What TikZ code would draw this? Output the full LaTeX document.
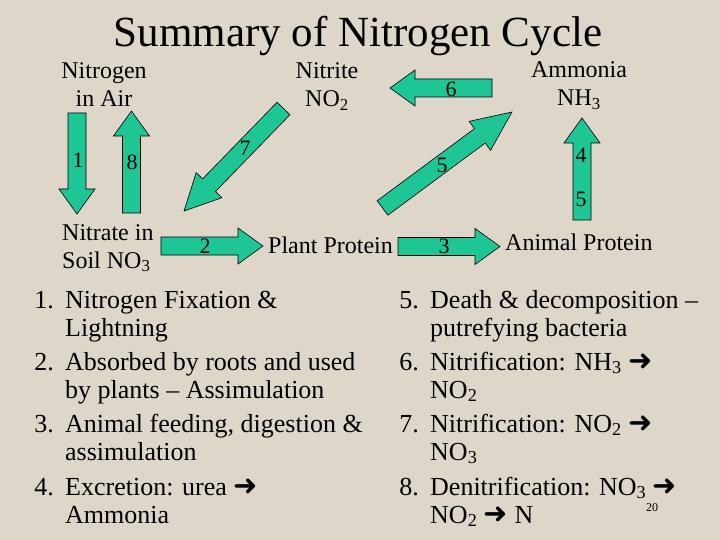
\documentclass[tikz,border=0pt]{standalone}
\usepackage{fontspec}
\setmainfont{Liberation Serif}
\newfontfamily\arrowfont{DejaVu Sans}
\usetikzlibrary{calc}
\definecolor{slide}{RGB}{221,214,201}
\definecolor{arrowgreen}{RGB}{30,198,150}
% block arrow from tail #2 to tip #3, head length #1
\newcommand\blockarrow[3][25]{%
\coordinate (hb) at ($(#3)!#1pt!(#2)$);
\draw[arrowbody] ($(#2)!9pt!90:(#3)$) -- ($(hb)!9pt!-90:(#2)$) -- ($(hb)!18pt!-90:(#2)$) -- (#3)
 -- ($(hb)!18pt!90:(#2)$) -- ($(hb)!9pt!90:(#2)$) -- ($(#2)!9pt!-90:(#3)$) -- cycle;}
\newcommand\To{{\arrowfont\fontsize{29}{28}\selectfont ➜}}
\begin{document}
\begin{tikzpicture}
[x=1pt, y=-1pt,
arrowbody/.style={draw=black, fill=arrowgreen, line width=0.6pt},
cyclelabel/.style={font=\fontsize{24}{28}\selectfont, align=center, inner sep=0pt, anchor=base},
arrownum/.style={font=\fontsize{22}{24}\selectfont, inner sep=0pt, anchor=base},
listitem/.style={font=\fontsize{26}{28}\selectfont, align=left, inner sep=0pt, anchor=base west},
listno/.style={font=\fontsize{26}{28}\selectfont, inner sep=0pt, anchor=base east}]
\fill[slide] (0,0) rectangle (720,540);
\useasboundingbox (0,0) rectangle (720,540);
\node[font=\fontsize{43}{48}\selectfont, inner sep=0pt, anchor=base] (title) at (358,47) {Summary of Nitrogen Cycle};
% cycle (base = last line)
\node[cyclelabel] (air) at (104,107) {Nitrogen\\in Air};
\node[cyclelabel] (nitrite) at (327,107) {Nitrite\\NO\textsubscript{2}};
\node[cyclelabel] (ammonia) at (579,106) {Ammonia\\NH\textsubscript{3}};
\node[cyclelabel, align=left, anchor=base west] (soil) at (62,268) {Nitrate in\\Soil NO\textsubscript{3}};
\node[cyclelabel, anchor=base west] (plant) at (268,253) {Plant Protein};
\node[cyclelabel, anchor=base west] (animal) at (505,250) {Animal Protein};
\coordinate (a1s) at (77,113); \coordinate (a1e) at (77,214);
\coordinate (a8s) at (131.5,213); \coordinate (a8e) at (131.5,111);
\coordinate (a7s) at (283.5,108.5); \coordinate (a7e) at (184,211);
\coordinate (a2s) at (161,246); \coordinate (a2e) at (263,246);
\coordinate (a6s) at (492,88); \coordinate (a6e) at (390,88);
\coordinate (a5s) at (382.5,208); \coordinate (a5e) at (512,112);
\coordinate (a4s) at (582,220); \coordinate (a4e) at (582,118);
\coordinate (a3s) at (398,246.5); \coordinate (a3e) at (500,246.5);
\blockarrow{a1s}{a1e}
\blockarrow{a8s}{a8e}
\blockarrow[36]{a7s}{a7e}
\blockarrow{a2s}{a2e}
\blockarrow{a6s}{a6e}
\blockarrow[40]{a5s}{a5e}
\blockarrow{a4s}{a4e}
\blockarrow{a3s}{a3e}
\node[arrownum] (n1) at (78,168) {1};
\node[arrownum] (n8) at (132,170) {8};
\node[arrownum] (n7) at (245,156) {7};
\node[arrownum] (n2) at (205,253) {2};
\node[arrownum] (n6) at (451,97) {6};
\node[arrownum] (n5a) at (442,173) {5};
\node[arrownum] (n4) at (581,163) {4};
\node[arrownum] (n5b) at (581,207) {5};
\node[arrownum] (n3) at (444,254) {3};
% list (base = last line)
\node[listno] (l1) at (54,308) {1.};
\node[listitem] (t1) at (65,336) {Nitrogen Fixation \&\\Lightning};
\node[listno] (l2) at (54,370) {2.};
\node[listitem] (t2) at (65,398) {Absorbed by roots and used\\by plants – Assimulation};
\node[listno] (l3) at (54,432) {3.};
\node[listitem] (t3) at (65,460) {Animal feeding, digestion \&\\assimulation};
\node[listno] (l4) at (54,495) {4.};
\node[listitem] (t4) at (65,523) {Excretion: urea \To\\Ammonia};
\node[listno] (l5) at (419,308) {5.};
\node[listitem] (t5) at (430,336) {Death \& decomposition –\\putrefying bacteria};
\node[listno] (l6) at (419,370) {6.};
\node[listitem] (t6) at (430,398) {Nitrification: NH\textsubscript{3} \To\\NO\textsubscript{2}};
\node[listno] (l7) at (419,432) {7.};
\node[listitem] (t7) at (430,460) {Nitrification: NO\textsubscript{2} \To\\NO\textsubscript{3}};
\node[listno] (l8) at (419,495) {8.};
\node[listitem] (t8) at (430,523) {Denitrification: NO\textsubscript{3} \To\\NO\textsubscript{2} \To{} N};
\node[font=\fontsize{12}{14}\selectfont, inner sep=0pt, anchor=base] (page) at (652,511) {20};
\end{tikzpicture}
\end{document}
